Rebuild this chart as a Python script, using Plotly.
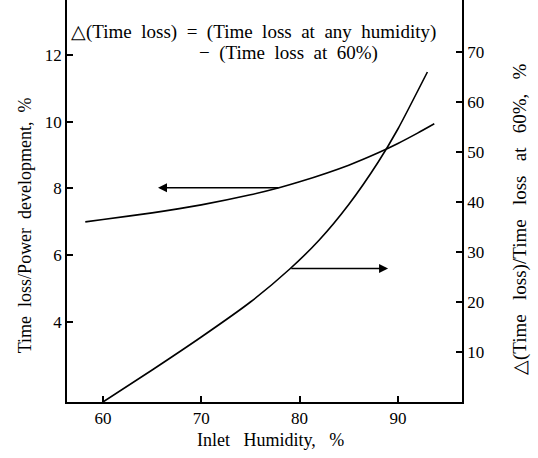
import plotly.graph_objects as go

# Upper curve: Time loss / Power development (left axis)
hum_left = [58.2, 60, 65, 70, 75, 78, 80, 85, 88, 90, 92, 93.7]
loss_left = [7.00, 7.07, 7.27, 7.51, 7.81, 8.03, 8.20, 8.70, 9.07, 9.35, 9.66, 9.94]

# Steep curve: delta(Time loss)/Time loss at 60% (right axis)
hum_right = [60, 65, 70, 75, 79, 82, 85, 88, 90, 93]
delta_right = [0, 6.4, 13.0, 20.0, 26.6, 32.4, 39.5, 48.0, 54.6, 66.0]

# Arrows (x from, x to, y value)
arrow_left = [78.0, 65.6, 8.02]
arrow_right = [79.0, 89.0, 26.7]

x_ticks = [60, 70, 80, 90]
left_ticks = [4, 6, 8, 10, 12]
right_ticks = [10, 20, 30, 40, 50, 60, 70]

FONT = "Liberation Serif, Times New Roman, serif"
S = "\u00a0"  # non-breaking space for the wide word spacing of the original


def spaced(words, n):
    return (S * n).join(words)


fig = go.Figure()
fig.add_trace(go.Scatter(x=hum_left, y=loss_left, mode="lines",
                         line=dict(color="black", width=1.6, shape="spline", smoothing=0.6),
                         yaxis="y", showlegend=False))
fig.add_trace(go.Scatter(x=hum_right, y=delta_right, mode="lines",
                         line=dict(color="black", width=1.6, shape="spline", smoothing=0.6),
                         yaxis="y2", showlegend=False))

fig.add_annotation(x=arrow_left[1], y=arrow_left[2], ax=arrow_left[0], ay=arrow_left[2],
                   xref="x", yref="y", axref="x", ayref="y", text="",
                   showarrow=True, arrowhead=2, arrowsize=1.2, arrowwidth=1.5, arrowcolor="black")
fig.add_annotation(x=arrow_right[1], y=arrow_right[2], ax=arrow_right[0], ay=arrow_right[2],
                   xref="x", yref="y2", axref="x", ayref="y2", text="",
                   showarrow=True, arrowhead=2, arrowsize=1.2, arrowwidth=1.5, arrowcolor="black")

fig.add_annotation(xref="paper", yref="paper", x=0.005, y=0.92, xanchor="left", yanchor="middle",
                   text=spaced(["△(Time", "loss)", "=", "(Time", "loss", "at", "any", "humidity)"], 2),
                   showarrow=False, font=dict(family=FONT, size=19, color="black"))
fig.add_annotation(xref="paper", yref="paper", x=0.329, y=0.868, xanchor="left", yanchor="middle",
                   text=spaced(["−", "(Time", "loss", "at", "60%)"], 2),
                   showarrow=False, font=dict(family=FONT, size=19, color="black"))

# Axis titles
fig.add_annotation(xref="paper", yref="paper", x=0.514, y=-0.095, xanchor="center", yanchor="middle",
                   text=spaced(["Inlet", "Humidity,", "%"], 3), showarrow=False,
                   font=dict(family=FONT, size=18, color="black"))
fig.add_annotation(xref="paper", yref="paper", x=-0.106, y=0.44, xanchor="center", yanchor="middle",
                   text=spaced(["Time", "loss/Power", "development,", "%"], 2), showarrow=False, textangle=-90,
                   font=dict(family=FONT, size=18, color="black"))
fig.add_annotation(xref="paper", yref="paper", x=1.147, y=0.453, xanchor="center", yanchor="middle",
                   text=spaced(["△(Time", "loss)/Time", "loss", "at", "60%,", "%"], 3), showarrow=False,
                   textangle=-90, font=dict(family=FONT, size=19, color="black"))

axis_common = dict(showgrid=False, zeroline=False, showline=True, linecolor="black", linewidth=1.5,
                   ticks="inside", ticklen=6, tickwidth=1.5, tickcolor="black",
                   tickfont=dict(family=FONT, size=17, color="black"))

fig.update_layout(
    width=538, height=458,
    margin=dict(l=67, r=76, t=0, b=56),
    paper_bgcolor="white", plot_bgcolor="white",
    xaxis=dict(range=[56.34, 96.52], tickvals=x_ticks, **axis_common),
    yaxis=dict(range=[1.6, 13.65], tickvals=left_ticks, **axis_common),
    yaxis2=dict(range=[0, 80.4], tickvals=right_ticks, overlaying="y", side="right", **axis_common),
)

fig.write_html("out.html")
